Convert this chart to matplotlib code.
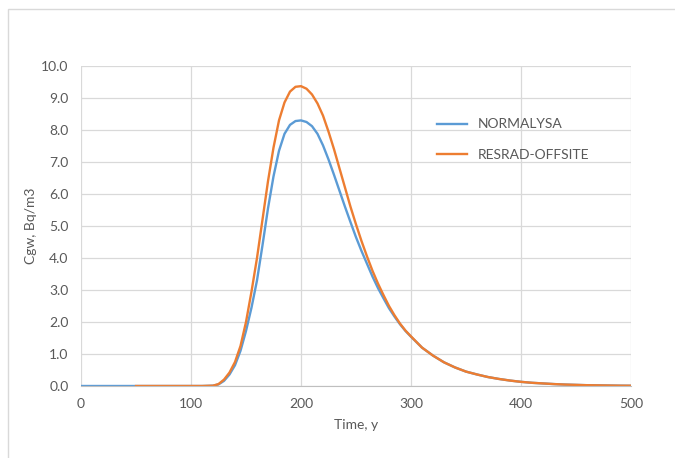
import matplotlib.pyplot as plt
from matplotlib.patches import Rectangle

# time axis (years) and concentrations (Bq/m3)
times_blue = [0, 10, 20, 30, 40, 50, 60, 70, 80, 90, 100, 110,
              120, 125, 130, 135, 140, 145, 150, 155, 160, 165, 170, 175,
              180, 185, 190, 195, 200, 205, 210, 215, 220, 225, 230, 235,
              240, 245, 250, 255, 260, 265, 270, 275, 280, 285, 290, 295,
              300, 310, 320, 330, 340, 350, 360, 370, 380, 390, 400, 410,
              420, 430, 440, 450, 460, 470, 480, 490, 500]
normalysa = [0, 0, 0, 0, 0, 0, 0, 0, 0, 0, 0, 0,
             0.01, 0.05, 0.16, 0.36, 0.65, 1.1, 1.72, 2.45, 3.3, 4.4, 5.55, 6.55,
             7.35, 7.88, 8.16, 8.28, 8.3, 8.25, 8.12, 7.88, 7.52, 7.08, 6.6, 6.1,
             5.6, 5.12, 4.65, 4.22, 3.82, 3.42, 3.06, 2.74, 2.43, 2.17, 1.93, 1.72,
             1.54, 1.2, 0.95, 0.74, 0.58, 0.45, 0.36, 0.28, 0.22, 0.17, 0.13, 0.1,
             0.08, 0.06, 0.045, 0.035, 0.025, 0.02, 0.015, 0.01, 0.008]

times_orange = times_blue[5:]
resrad = [0, 0, 0, 0, 0, 0, 0,
          0.01, 0.06, 0.2, 0.42, 0.75, 1.25, 2.0, 2.95, 4.0, 5.2, 6.4, 7.45,
          8.3, 8.86, 9.2, 9.35, 9.37, 9.29, 9.11, 8.83, 8.45, 7.95, 7.4, 6.8,
          6.2, 5.6, 5.05, 4.53, 4.05, 3.6, 3.2, 2.84, 2.5, 2.21, 1.95, 1.73,
          1.55, 1.2, 0.95, 0.74, 0.58, 0.45, 0.36, 0.28, 0.22, 0.17, 0.13, 0.1,
          0.08, 0.06, 0.045, 0.035, 0.025, 0.02, 0.015, 0.01, 0.008]

x_ticks = [0, 100, 200, 300, 400, 500]
y_ticks = [0, 1, 2, 3, 4, 5, 6, 7, 8, 9, 10]

plt.rcParams['font.family'] = ['Lato', 'DejaVu Sans']
text_color = '#595959'
grid_color = '#d9d9d9'

fig = plt.figure(figsize=(6.75, 4.58), dpi=100)
ax = fig.add_axes([81 / 675, 72 / 458, 550 / 675, 320 / 458])

# outer chart border (only top and left are inside the picture)
fig.patches.append(Rectangle((8 / 675, -0.2), 1.2, 1.2 - 9 / 458,
                             transform=fig.transFigure, fill=False,
                             edgecolor=grid_color, linewidth=1.0))

ax.plot(times_blue, normalysa, color='#5b9bd5', linewidth=1.7, label='NORMALYSA')
ax.plot(times_orange, resrad, color='#ed7d31', linewidth=1.7, label='RESRAD-OFFSITE')

ax.set_xlim(0, 500)
ax.set_ylim(0, 10)
ax.set_xticks(x_ticks)
ax.set_yticks(y_ticks)
ax.set_yticklabels([f'{v:.1f}' for v in y_ticks])
ax.grid(True, color=grid_color, linewidth=0.9)
ax.set_axisbelow(True)
for side in ['left', 'right', 'top']:
    ax.spines[side].set_visible(False)
ax.spines['bottom'].set_color('#bfbfbf')
ax.tick_params(length=0, labelsize=10, labelcolor=text_color)
ax.tick_params(axis='x', pad=9)
ax.tick_params(axis='y', pad=9)

ax.set_xlabel('Time, y', fontsize=10, color=text_color, labelpad=6)
ax.set_ylabel('Cgw, Bq/m3', fontsize=10, color=text_color, labelpad=3)

ax.legend(loc='upper left', bbox_to_anchor=(424 / 675, 1 - 106 / 458),
          bbox_transform=fig.transFigure, frameon=False, fontsize=10,
          labelcolor=text_color, handlelength=2.2, labelspacing=1.3)

fig.savefig('out.png', dpi=100)
